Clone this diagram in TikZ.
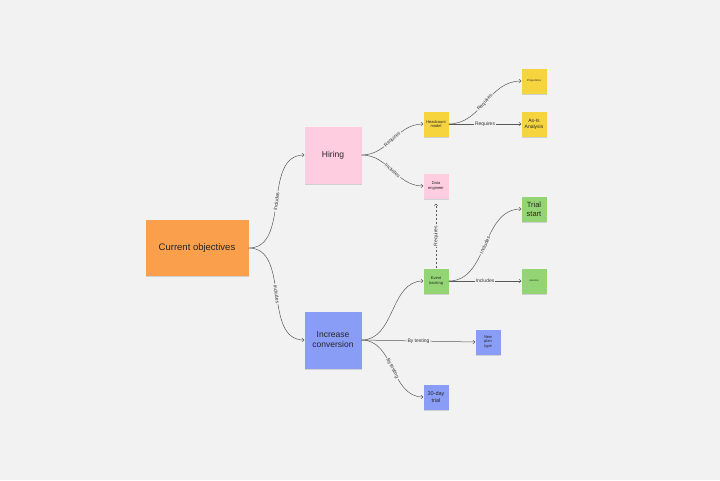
\documentclass[tikz,border=0pt]{standalone}
\usepackage{fontspec}
\setmainfont{Liberation Sans}
\usetikzlibrary{arrows.meta}
\definecolor{bg}{HTML}{F2F2F2}
\definecolor{corange}{HTML}{FA9F4C}
\definecolor{cpink}{HTML}{FFCCE0}
\definecolor{cblue}{HTML}{8A9DF6}
\definecolor{cyellow}{HTML}{F6D43E}
\definecolor{cgreen}{HTML}{93D474}
\tikzset{
  note/.style={minimum width=#1, minimum height=#1, inner sep=0.5pt, align=center, text=black!85,
    preaction={fill=black!18, transform canvas={yshift=-1.2pt}}},
  big/.style={note=57pt, font=\fontsize{8.5}{10}\selectfont},
  sm/.style={note=25pt, font=\fontsize{4}{4.8}\selectfont},
  lbl/.style={midway, sloped, fill=bg, inner sep=1pt, font=\fontsize{5}{6}\selectfont, text=black!80},
  con/.style={draw=black!65, line width=0.5pt, -{To[length=2.5pt,width=4pt]}},
}
\begin{document}
\begin{tikzpicture}[x=1pt,y=-1pt]
\fill[bg] (0,0) rectangle (720,480);
\useasboundingbox (0,0) rectangle (720,480);
\node[note=56pt, minimum width=103pt, fill=corange, font=\fontsize{9.5}{11}\selectfont] (co) at (197,248) {Current objectives};
\node[big, fill=cpink] (hi) at (333,155) {Hiring};
\node[big, fill=cblue] (ic) at (333,340) {Increase\\conversion};
\node[sm, fill=cyellow] (hm) at (436,124) {Headcount\\model};
\node[sm, fill=cyellow, font=\fontsize{2.8}{3}\selectfont] (pr) at (534,81) {Projections};
\node[sm, fill=cyellow, font=\fontsize{5}{6}\selectfont] (as) at (534,124) {As-Is\\Analysis};
\node[sm, fill=cpink] (de) at (436,186) {Data\\engineer};
\node[sm, fill=cgreen, font=\fontsize{7.5}{9}\selectfont] (ts) at (534,209) {Trial\\start};
\node[sm, fill=cgreen, font=\fontsize{2.4}{3}\selectfont] (re) at (534,281) {retention};
\node[sm, fill=cgreen] (et) at (436,281) {Event\\tracking};
\node[sm, fill=cblue] (np) at (488,342) {New\\plan\\type};
\node[sm, fill=cblue, font=\fontsize{5.5}{6.5}\selectfont] (td) at (436,397) {30-day\\trial};

\draw[con] (co.east) to[out=0,in=180] node[lbl]{Includes} (hi.west);
\draw[con] (co.east) to[out=0,in=180] node[lbl]{Includes} (ic.west);
\draw[con] (hi.east) to[out=0,in=180] node[lbl]{Requires} (hm.west);
\draw[con] (hi.east) to[out=0,in=180] node[lbl]{Includes} (de.west);
\draw[con] (hm.east) to[out=0,in=180] node[lbl]{Requires} (pr.west);
\draw[con] (hm.east) -- node[lbl]{Requires} (as.west);
\draw[con, line width=0.4pt, dash pattern=on 2pt off 2pt] (et.north) -- node[lbl]{Requires} ([yshift=-5pt]de.south);
\draw[con] (et.east) to[out=0,in=180] node[lbl]{Includes} (ts.west);
\draw[con] (et.east) -- node[lbl]{Includes} (re.west);
\draw[con] (ic.east) to[out=0,in=180] (et.west);
\draw[con] (ic.east) -- node[lbl]{By testing} (np.west);
\draw[con] (ic.east) to[out=0,in=180] node[lbl]{By testing} (td.west);
\end{tikzpicture}
\end{document}
